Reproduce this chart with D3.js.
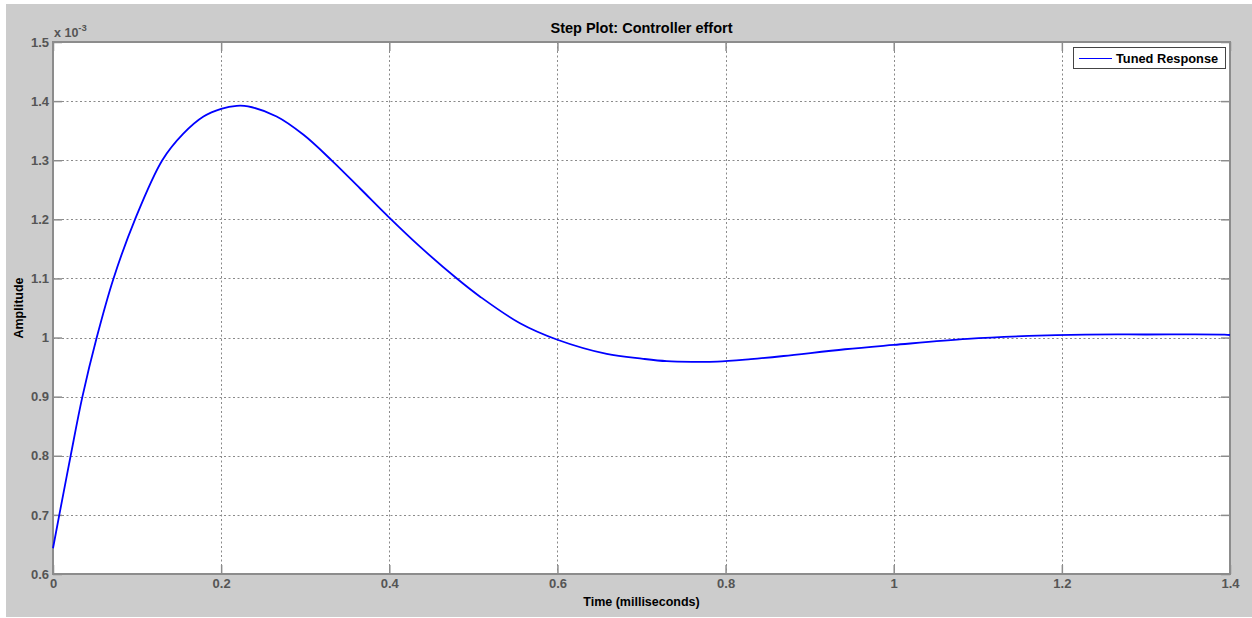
<!DOCTYPE html>
<html>
<head>
<meta charset="utf-8">
<script src="https://cdn.jsdelivr.net/npm/d3@7"></script>
<style>
  html, body { margin: 0; padding: 0; background: #ffffff; }
  svg { display: block; }
  text { font-family: "Liberation Sans", Arial, sans-serif; }
</style>
</head>
<body>
<svg id="chart" width="1252" height="618"></svg>
<script>
// ---- data (time in milliseconds, amplitude in units of 1e-3) ----
const timeMs = [0, 0.0075, 0.021, 0.035, 0.052, 0.072, 0.0976, 0.130, 0.155, 0.179, 0.200, 0.2185, 0.232, 0.266, 0.298, 0.332, 0.365, 0.400, 0.4365, 0.480, 0.508, 0.5555, 0.600, 0.6586, 0.702, 0.730, 0.760, 0.790, 0.830, 0.869, 0.942, 1.000, 1.0876, 1.1605, 1.228, 1.300, 1.3935, 1.400];
const amplitude = [0.6435, 0.700, 0.800, 0.900, 1.000, 1.100, 1.200, 1.300, 1.345, 1.374, 1.387, 1.392, 1.391, 1.374, 1.343, 1.299, 1.2526, 1.2029, 1.1538, 1.1003, 1.0692, 1.0242, 0.9963, 0.9723, 0.9640, 0.9600, 0.9588, 0.9592, 0.9635, 0.9688, 0.9802, 0.9875, 0.9977, 1.0027, 1.0050, 1.0052, 1.0050, 1.0043];
const xTicks = [0, 0.2, 0.4, 0.6, 0.8, 1, 1.2, 1.4];
const yTicks = [0.6, 0.7, 0.8, 0.9, 1, 1.1, 1.2, 1.3, 1.4, 1.5];
const titleText = "Step Plot: Controller effort";
const xLabelText = "Time (milliseconds)";
const yLabelText = "Amplitude";
const seriesName = "Tuned Response";

const svg = d3.select("#chart");
const W = 1252, H = 618;
const plot = { left: 53, top: 42, right: 1230, bottom: 574 };

// figure background
svg.append("rect").attr("x", 6).attr("y", 4).attr("width", W - 6).attr("height", H - 5)
  .attr("fill", "#cccccc");

const x = d3.scaleLinear().domain([0, 1.4]).range([plot.left, plot.right]);
const y = d3.scaleLinear().domain([0.6, 1.5]).range([plot.bottom, plot.top]);

// plot area
svg.append("rect").attr("x", plot.left).attr("y", plot.top)
  .attr("width", plot.right - plot.left).attr("height", plot.bottom - plot.top)
  .attr("fill", "#ffffff");

// grid
const grid = svg.append("g").attr("stroke", "#8a8a8a").attr("stroke-width", 1)
  .attr("stroke-dasharray", "2,2.5").attr("fill", "none");
xTicks.slice(1, -1).forEach(t => {
  grid.append("line").attr("x1", Math.round(x(t)) + 0.5).attr("x2", Math.round(x(t)) + 0.5)
    .attr("y1", plot.top).attr("y2", plot.bottom);
});
yTicks.slice(1, -1).forEach(t => {
  grid.append("line").attr("y1", Math.round(y(t)) + 0.5).attr("y2", Math.round(y(t)) + 0.5)
    .attr("x1", plot.left).attr("x2", plot.right);
});

// axes via d3 (inward ticks)
const axisColor = "#8c8c8c";
const tickLen = 9;
function styleAxis(g, showLabels) {
  g.select(".domain").remove();
  g.selectAll(".tick line").attr("stroke", axisColor).attr("stroke-width", 1.5);
  g.selectAll(".tick text").attr("fill", "#555555")
    .style("font-family", '"Liberation Sans", Arial, sans-serif')
    .style("font-size", "13px").style("font-weight", "bold");
  if (!showLabels) g.selectAll(".tick text").remove();
}
const fmt = d => (d === 0 ? "0" : d3.format("~g")(d));

svg.append("g").attr("transform", `translate(0,${plot.bottom})`)
  .call(d3.axisBottom(x).tickValues(xTicks).tickFormat(fmt).tickSizeInner(-tickLen).tickSizeOuter(0).tickPadding(5))
  .call(g => styleAxis(g, true));
svg.append("g").attr("transform", `translate(0,${plot.top})`)
  .call(d3.axisTop(x).tickValues(xTicks).tickSizeInner(-tickLen).tickSizeOuter(0))
  .call(g => styleAxis(g, false));
svg.append("g").attr("transform", `translate(${plot.left},0)`)
  .call(d3.axisLeft(y).tickValues(yTicks).tickFormat(fmt).tickSizeInner(-tickLen).tickSizeOuter(0).tickPadding(4))
  .call(g => styleAxis(g, true));
svg.append("g").attr("transform", `translate(${plot.right},0)`)
  .call(d3.axisRight(y).tickValues(yTicks).tickSizeInner(-tickLen).tickSizeOuter(0))
  .call(g => styleAxis(g, false));

// box
svg.append("rect").attr("x", plot.left).attr("y", plot.top)
  .attr("width", plot.right - plot.left).attr("height", plot.bottom - plot.top)
  .attr("fill", "none").attr("stroke", axisColor).attr("stroke-width", 2);

// curve
const pts = timeMs.map((t, i) => [t, amplitude[i]]);
const line = d3.line().x(d => x(d[0])).y(d => y(d[1])).curve(d3.curveCatmullRom.alpha(0.5));
svg.append("path").datum(pts).attr("d", line)
  .attr("fill", "none").attr("stroke", "#0000ff").attr("stroke-width", 1.8)
  .attr("stroke-linejoin", "round");

// exponent label
const ex = svg.append("text").attr("x", plot.left + 1).attr("y", 37)
  .attr("fill", "#555555").style("font-size", "12.5px").style("font-weight", "bold");
ex.append("tspan").text("x 10");
ex.append("tspan").attr("dy", -6).style("font-size", "9.5px").text("-3");

// title
svg.append("text").attr("x", (plot.left + plot.right) / 2).attr("y", 33)
  .attr("text-anchor", "middle").attr("fill", "#000")
  .style("font-size", "14.5px").style("font-weight", "bold").text(titleText);

// x label
svg.append("text").attr("x", (plot.left + plot.right) / 2).attr("y", 606)
  .attr("text-anchor", "middle").attr("fill", "#000")
  .style("font-size", "12.5px").style("font-weight", "bold").text(xLabelText);

// y label
svg.append("text").attr("transform", `translate(23,${(plot.top + plot.bottom) / 2}) rotate(-90)`)
  .attr("text-anchor", "middle").attr("fill", "#000")
  .style("font-size", "12.5px").style("font-weight", "bold").text(yLabelText);

// legend
const lg = svg.append("g");
lg.append("rect").attr("x", 1073.5).attr("y", 47.5).attr("width", 152).attr("height", 21)
  .attr("fill", "#ffffff").attr("stroke", "#444444").attr("stroke-width", 1);
lg.append("line").attr("x1", 1079).attr("x2", 1112).attr("y1", 58.5).attr("y2", 58.5)
  .attr("stroke", "#0000ff").attr("stroke-width", 1.2);
lg.append("text").attr("x", 1116).attr("y", 63).attr("fill", "#000")
  .style("font-size", "12.8px").style("font-weight", "bold").text(seriesName);
</script>
</body>
</html>
